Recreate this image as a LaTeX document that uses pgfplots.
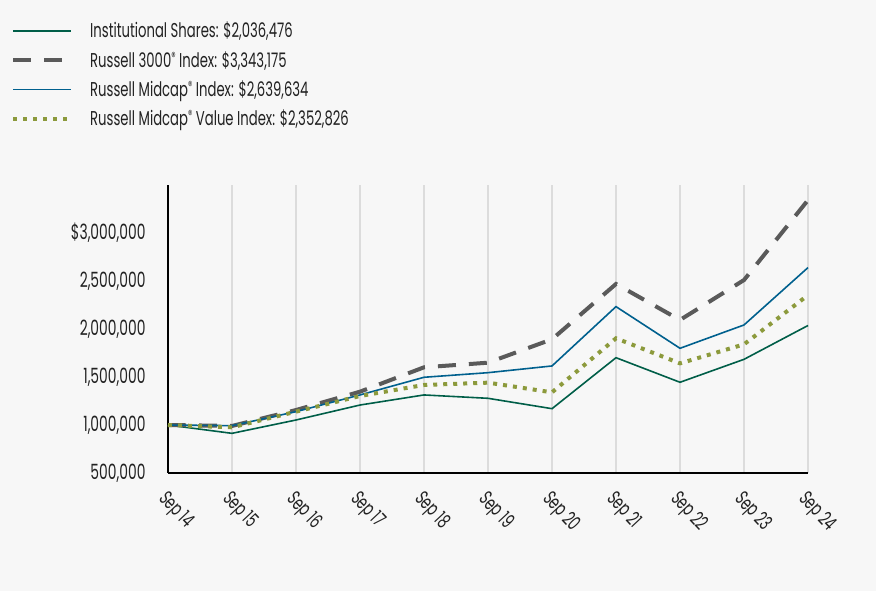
\documentclass[border=0pt]{standalone}
\usepackage{pgfplots}
\pgfplotsset{compat=1.18}
\usepackage{graphicx}
\usepackage{fontspec}
\setmainfont[FakeStretch=0.66]{Poppins}
\newfontfamily\xfont{Poppins}
\newcommand{\sx}[1]{\scalebox{0.66}[1]{\xfont #1}}
\definecolor{bg}{HTML}{F7F7F7}
\definecolor{cgreen}{HTML}{005E48}
\definecolor{cblue}{HTML}{00608E}
\definecolor{cgray}{HTML}{5A5A5A}
\definecolor{colive}{HTML}{8C9A3C}
\definecolor{cgrid}{HTML}{DCDCDC}
\definecolor{ctext}{HTML}{222222}
\newcommand{\reg}{\smash{\raisebox{0.55ex}{\fontsize{13}{13}\selectfont ®}}}
\begin{document}
\begin{tikzpicture}
\fill[bg] (-168pt,-118pt) rectangle (708pt,473pt);
\begin{axis}[
  at={(0pt,0pt)}, anchor=origin,
  scale only axis, width=640pt, height=288pt,
  xmin=0, xmax=10, ymin=500000, ymax=3500000,
  scaled y ticks=false,
  axis x line*=bottom, axis y line*=left,
  axis line style={-, black, line width=1.2pt},
  xtick={0,...,10},
  xticklabels={\sx{Sep 14},\sx{Sep 15},\sx{Sep 16},\sx{Sep 17},\sx{Sep 18},\sx{Sep 19},\sx{Sep 20},\sx{Sep 21},\sx{Sep 22},\sx{Sep 23},\sx{Sep 24}},
  x tick label style={xshift=1pt, yshift=-16pt, rotate=-47, anchor=north west, font=\fontsize{20}{20}\selectfont, text=ctext, inner sep=0pt},
  ytick={500000,1000000,1500000,2000000,2500000,3000000},
  yticklabels={{500,000},{1,000,000},{1,500,000},{2,000,000},{2,500,000},{\$3,000,000}},
  y tick label style={font=\fontsize{21}{21}\selectfont, text=ctext, xshift=-19pt},
  major tick length=0pt,
  xmajorgrids, grid style={cgrid, line width=1.5pt},
  legend style={at={(-0.2453,1.573)}, anchor=north west, draw=none, fill=none,
    font=\fontsize{20}{20}\selectfont, text=ctext, row sep=8pt,
    legend cell align=left, inner sep=0pt},
  legend image code/.code={\draw[#1] (0pt,0pt) -- (58pt,0pt);},
  every axis legend/.append style={nodes={inner xsep=17pt}},
  clip=false,
]
\addplot[cgreen, line width=1.6pt] coordinates {(0,1000000)(1,913000)(2,1052000)(3,1208000)(4,1313000)(5,1278000)(6,1170000)(7,1701000)(8,1445000)(9,1684000)(10,2036476)};
\addlegendentry{Institutional Shares: \$2,036,476}
\addplot[cgray, line width=4pt, dash pattern=on 18pt off 13pt] coordinates {(0,1000000)(1,990000)(2,1156000)(3,1347000)(4,1601000)(5,1649000)(6,1893000)(7,2469000)(8,2094000)(9,2510000)(10,3343175)};
\addlegendentry{Russell 3000\reg{} Index: \$3,343,175}
\addplot[cblue, line width=1.6pt] coordinates {(0,1000000)(1,993000)(2,1139000)(3,1313000)(4,1497000)(5,1545000)(6,1615000)(7,2233000)(8,1799000)(9,2042000)(10,2639634)};
\addlegendentry{Russell Midcap\reg{} Index: \$2,639,634}
\addplot[colive, line width=4pt, dash pattern=on 4pt off 6pt] coordinates {(0,1000000)(1,976000)(2,1139000)(3,1302000)(4,1417000)(5,1441000)(6,1340000)(7,1903000)(8,1642000)(9,1840000)(10,2352826)};
\addlegendentry{Russell Midcap\reg{} Value Index: \$2,352,826}
\end{axis}
\end{tikzpicture}
\end{document}
